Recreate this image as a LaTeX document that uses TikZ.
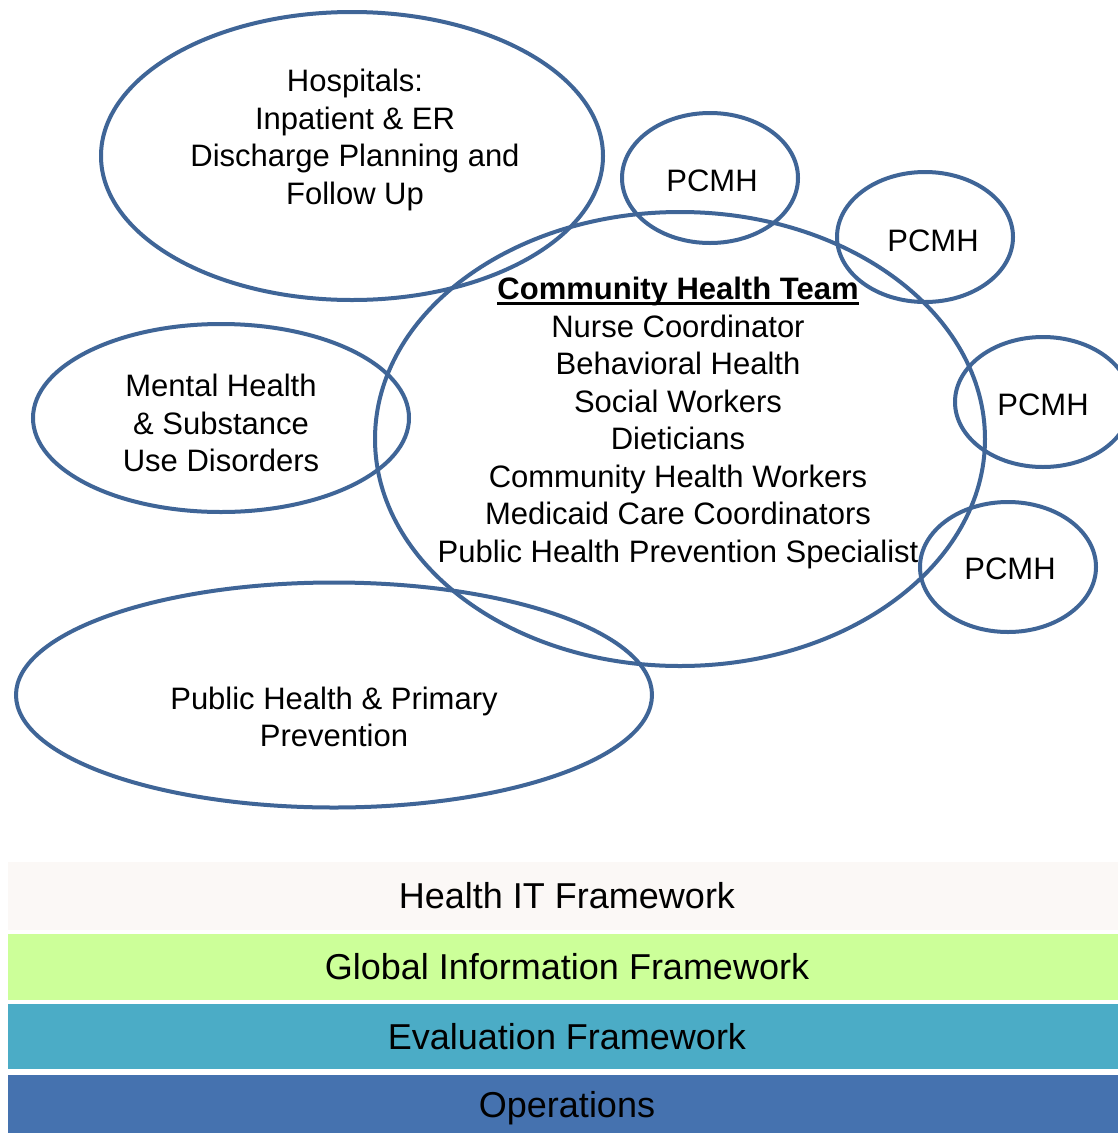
\documentclass[tikz,border=0pt]{standalone}
\usepackage{fontspec}
\setmainfont{Liberation Sans}
\usetikzlibrary{shapes.geometric}
\definecolor{ringc}{HTML}{3F6597}
\definecolor{itc}{HTML}{FBF8F6}
\definecolor{gifc}{HTML}{CCFF99}
\definecolor{evalc}{HTML}{4BACC6}
\definecolor{opsc}{HTML}{4572AF}
\newcommand{\thickul}[1]{\setbox0\hbox{#1}\leavevmode\rlap{\raisebox{-5pt}{\rule{\wd0}{2.6pt}}}\box0}
\begin{document}
\begin{tikzpicture}[x=1pt,y=-1pt,
  ring/.style={draw=ringc, line width=4pt, ellipse, inner sep=0pt, outer sep=0pt},
  lbl/.style={align=center, font=\fontsize{31}{37.5}\selectfont, inner sep=0pt},
  bar/.style={minimum width=1110pt, inner sep=0pt, outer sep=0pt, anchor=north west, font=\fontsize{36}{40}\selectfont},
  bartext/.style={font=\fontsize{36}{40}\selectfont, inner sep=0pt}]
\useasboundingbox[fill=white] (0,0) rectangle (1118,1133);

% ellipses
\node[ring, minimum width=502pt, minimum height=288pt] (hosp) at (352,156) {};
\node[ring, minimum width=610pt, minimum height=454pt] (cht) at (680,439) {};
\node[ring, minimum width=376pt, minimum height=188pt] (mh) at (221,418) {};
\node[ring, minimum width=636pt, minimum height=225pt] (ph) at (334,695) {};
\node[ring, minimum width=176pt, minimum height=130pt] (p1) at (710,178) {};
\node[ring, minimum width=176pt, minimum height=130pt] (p2) at (925,237) {};
\node[ring, minimum width=176pt, minimum height=130pt] (p3) at (1043,402) {};
\node[ring, minimum width=176pt, minimum height=130pt] (p4) at (1008,567) {};

% labels
\node[lbl] (hospt) at (355,140) {Hospitals:\\Inpatient \& ER\\Discharge Planning and\\Follow Up};
\node[lbl] (chtt) at (678,423) {\thickul{\textbf{Community Health Team}}\\Nurse Coordinator\\Behavioral Health\\Social Workers\\Dieticians\\Community Health Workers\\Medicaid Care Coordinators\\Public Health Prevention Specialist};
\node[lbl] (mht) at (221,423) {Mental Health\\\& Substance\\Use Disorders};
\node[lbl] (pht) at (334,717) {Public Health \& Primary\\Prevention};
\node[lbl] (p1t) at (712,181) {PCMH};
\node[lbl] (p2t) at (933,241) {PCMH};
\node[lbl] (p3t) at (1043,405) {PCMH};
\node[lbl] (p4t) at (1010,569) {PCMH};

% bars
\node[bar, fill=itc, minimum height=68pt] (it) at (8,862) {};
\node[bar, fill=gifc, minimum height=66pt] (gif) at (8,934) {};
\node[bar, fill=evalc, minimum height=65pt] (ev) at (8,1004) {};
\node[bar, fill=opsc, minimum height=66pt] (ops) at (8,1075) {};
\node[bartext] (itt) at ([xshift=4pt]it.center) {Health IT Framework};
\node[bartext] (gift) at ([xshift=4pt]gif.center) {Global Information Framework};
\node[bartext] (evt) at ([xshift=4pt]ev.center) {Evaluation Framework};
\node[bartext] (opst) at ([xshift=4pt]ops.center) {Operations};
\end{tikzpicture}
\end{document}
